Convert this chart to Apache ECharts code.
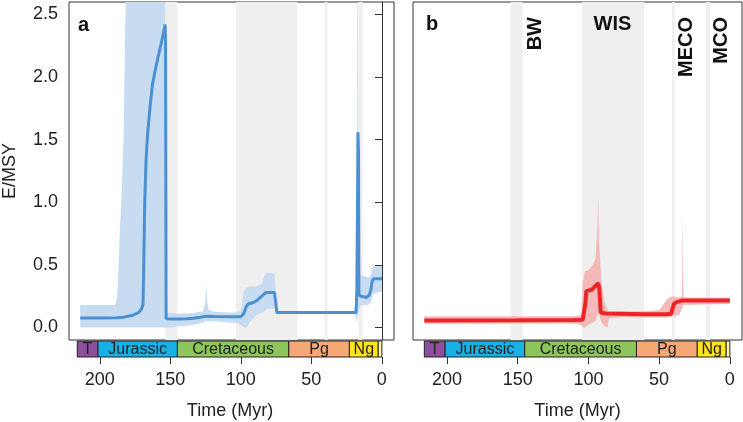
<!DOCTYPE html>
<html><head><meta charset="utf-8">
<script src="https://cdn.jsdelivr.net/npm/echarts@6/dist/echarts.min.js"></script>
<style>html,body{margin:0;padding:0;background:#fff}#c{width:743px;height:422px}</style>
</head><body><div id="c"></div>
<script>
// axis ranges and ticks
const X_MIN = -8.6, X_MAX = 224.0;
const Y_MIN = -0.1, Y_MAX = 2.6;
const yTicks = [0, 0.5, 1, 1.5, 2, 2.5];
const xTicks = [0, 50, 100, 150, 200];

// geological periods (Myr)
const periodNames = ['T', 'Jurassic', 'Cretaceous', 'Pg', 'Ng', ''];
const periodStart = [216, 201.3, 145, 66, 23.03, 2.58];
const periodEnd = [201.3, 145, 66, 23.03, 2.58, 0];
const periodColors = ['#8e4f9f', '#17b1e6', '#8dc65c', '#f6a874', '#ffe41c', '#fff6a8'];

// climatic events (Myr)
const eventNames = ['BW', 'WIS', 'MECO', 'MCO'];
const eventStart = [155, 104.5, 41, 16.8];
const eventEnd = [146.5, 60.5, 39, 13.8];

// panel a: mean E/MSY
const timeA = [216, 200, 190, 185, 179, 174, 172, 171.2, 171, 170.5,
  169.8, 168.8, 167.8, 166, 164.3, 162, 159.5, 157, 155.2, 154.9,
  154.5, 150, 145, 140, 135, 130, 126, 120, 110, 101,
  99, 97, 95.5, 92, 89, 86, 83, 77, 76, 75.3,
  18.5, 18, 17.5, 17.2, 16.8, 16.5, 15, 11, 10, 9,
  8, 7, 6, 0];
const rateA = [0.075, 0.075, 0.077, 0.082, 0.095, 0.12, 0.15, 0.18, 0.2, 0.5,
  1.0, 1.35, 1.54, 1.76, 1.94, 2.07, 2.2, 2.32, 2.42, 2.3,
  0.07, 0.068, 0.068, 0.07, 0.074, 0.082, 0.09, 0.088, 0.085, 0.085,
  0.11, 0.17, 0.19, 0.2, 0.22, 0.25, 0.28, 0.28, 0.2, 0.12,
  0.12, 0.3, 1.0, 1.56, 1.4, 0.26, 0.25, 0.24, 0.245, 0.26,
  0.3, 0.37, 0.39, 0.39];
// panel a: credible interval
const bandTimeA = [216, 191, 189.5, 188.5, 187.5, 186.5, 185, 183.5, 155.2, 154.6,
  150, 145, 135, 128, 126.5, 125.8, 125, 124, 120, 110,
  104, 101, 99, 97, 94, 90, 86, 84, 82, 77,
  75.5, 74, 20, 19, 18, 17.6, 17.2, 16.8, 16.4, 15,
  10, 8, 6.5, 3, 0];
const bandLowA = [0, 0, 0, 0, 0, 0, 0, 0, 0, 0,
  0, 0.01, 0.02, 0.04, 0.05, 0.05, 0.05, 0.05, 0.05, 0.04,
  0.035, 0.02, 0, 0, 0.05, 0.1, 0.12, 0.13, 0.15, 0.15,
  0.12, 0.11, 0.11, 0.1, 0.05, 0.05, 0.1, 0.12, 0.15, 0.18,
  0.18, 0.2, 0.27, 0.28, 0.29];
const bandHighA = [0.18, 0.18, 0.25, 0.5, 0.8, 1.0, 1.5, 2.6, 2.6, 0.12,
  0.115, 0.11, 0.115, 0.13, 0.2, 0.35, 0.2, 0.14, 0.125, 0.12,
  0.12, 0.14, 0.28, 0.32, 0.33, 0.33, 0.35, 0.42, 0.44, 0.43,
  0.2, 0.13, 0.13, 0.2, 0.4, 2.6, 2.6, 0.45, 0.42, 0.42,
  0.4, 0.42, 0.49, 0.49, 0.49];

// panel b: mean E/MSY
const timeB = [216, 150, 110, 104, 103, 102, 101.5, 98, 96, 93,
  92.2, 91.3, 88, 70, 60, 45, 41.5, 40.5, 39.5, 37,
  34, 0];
const rateB = [0.056, 0.058, 0.06, 0.062, 0.065, 0.2, 0.29, 0.3, 0.32, 0.355,
  0.3, 0.12, 0.112, 0.108, 0.105, 0.105, 0.11, 0.15, 0.19, 0.205,
  0.215, 0.215];
// panel b: credible interval
const bandTimeB = [216, 110, 105, 104, 102.5, 100, 97, 95, 93.6, 93.1,
  92.5, 91, 90, 88.5, 86.5, 85.5, 80, 60, 50, 46,
  43, 40, 36, 33.8, 33.3, 32.8, 32, 0];
const bandLowB = [0.03, 0.03, 0.02, 0, 0, 0.02, 0.04, 0.05, 0.1, 0.12,
  0.1, 0.05, 0.03, 0.01, 0, 0.07, 0.08, 0.08, 0.08, 0.08,
  0.08, 0.09, 0.1, 0.15, 0.18, 0.18, 0.18, 0.19];
const bandHighB = [0.09, 0.09, 0.1, 0.35, 0.45, 0.46, 0.5, 0.55, 0.8, 1.04,
  0.7, 0.4, 0.3, 0.2, 0.14, 0.13, 0.13, 0.13, 0.14, 0.2,
  0.24, 0.25, 0.24, 0.25, 0.88, 0.25, 0.24, 0.24];

const FONT = 'Liberation Sans, Arial, sans-serif';
const chart = echarts.init(document.getElementById('c'), null, {renderer: 'canvas'});

function pairs(t, v) { return t.map((x, i) => [x, v[i]]); }

function bandSeries(idx, t, lo, hi, color) {
  return {
    type: 'custom', xAxisIndex: idx, yAxisIndex: idx, z: 2, silent: true,
    data: [[t[0], lo[0]]],
    renderItem: function (params, api) {
      const pts = [];
      for (let i = 0; i < t.length; i++) pts.push(api.coord([t[i], hi[i]]));
      for (let i = t.length - 1; i >= 0; i--) pts.push(api.coord([t[i], lo[i]]));
      return {type: 'polygon', shape: {points: pts}, style: {fill: color}};
    }
  };
}

function eventSeries(idx) {
  return {
    type: 'custom', xAxisIndex: idx, yAxisIndex: idx, z: 1, silent: true,
    data: eventStart.map((s, i) => [s, eventEnd[i]]),
    renderItem: function (params, api) {
      const p1 = api.coord([api.value(0), Y_MAX]);
      const p2 = api.coord([api.value(1), Y_MIN]);
      return {type: 'rect', shape: {x: p1[0], y: p1[1], width: p2[0] - p1[0], height: p2[1] - p1[1]},
        style: {fill: '#efefef'}};
    }
  };
}

function periodSeries(idx) {
  return {
    type: 'custom', xAxisIndex: idx, yAxisIndex: idx, silent: true,
    data: periodStart.map((s, i) => [s, periodEnd[i], i]),
    renderItem: function (params, api) {
      const i = api.value(2);
      const p1 = api.coord([api.value(0), 1]);
      const p2 = api.coord([api.value(1), 0]);
      const w = p2[0] - p1[0], h = p2[1] - p1[1];
      return {type: 'group', children: [
        {type: 'rect', shape: {x: p1[0], y: p1[1], width: w, height: h},
          style: {fill: periodColors[i], stroke: '#222', lineWidth: 1}},
        {type: 'text', style: {text: periodNames[i], x: p1[0] + w / 2, y: p1[1] + h / 2 + 1,
          align: 'center', verticalAlign: 'middle', font: '16px ' + FONT, fill: '#222'}}
      ]};
    }
  };
}

const mainX = (gi) => ({gridIndex: gi, type: 'value', min: X_MIN, max: X_MAX, inverse: true, show: false});
const scaleX = (gi) => ({
  gridIndex: gi, type: 'value', min: X_MIN, max: X_MAX, inverse: true, position: 'bottom',
  axisLine: {show: false}, splitLine: {show: false},
  axisTick: {show: true, length: 7, customValues: xTicks, lineStyle: {color: '#333', width: 1}},
  axisLabel: {customValues: xTicks, margin: 14, fontSize: 18, fontFamily: FONT, color: '#222'},
  name: 'Time (Myr)', nameLocation: 'middle', nameGap: 45,
  nameTextStyle: {fontSize: 18, fontFamily: FONT, color: '#222'}
});

const labelFont = 'bold 20px ' + FONT;
const option = {
  animation: false,
  backgroundColor: '#fff',
  grid: [
    {left: 66, top: 2, width: 328, height: 338, show: true, borderColor: '#333', borderWidth: 1, backgroundColor: 'transparent'},
    {left: 413, top: 2, width: 329, height: 338, show: true, borderColor: '#333', borderWidth: 1, backgroundColor: 'transparent'},
    {left: 66, top: 341, width: 328, height: 16},
    {left: 413, top: 341, width: 329, height: 16}
  ],
  xAxis: [mainX(0), mainX(1), scaleX(2), scaleX(3)],
  yAxis: [
    {gridIndex: 0, type: 'value', min: Y_MIN, max: Y_MAX, splitLine: {show: false},
      axisLine: {show: true, lineStyle: {color: '#333'}},
      axisTick: {show: true, length: 7, customValues: yTicks, lineStyle: {color: '#333'}},
      axisLabel: {customValues: yTicks, margin: 11, fontSize: 18, fontFamily: FONT, color: '#222',
        formatter: v => v.toFixed(1)},
      name: 'E/MSY', nameLocation: 'middle', nameGap: 50, nameRotate: 90,
      nameTextStyle: {fontSize: 18, fontFamily: FONT, color: '#222'}},
    {gridIndex: 1, type: 'value', min: Y_MIN, max: Y_MAX, show: false},
    {gridIndex: 2, type: 'value', min: 0, max: 1, show: false},
    {gridIndex: 3, type: 'value', min: 0, max: 1, show: false}
  ],
  series: [
    eventSeries(0), eventSeries(1),
    bandSeries(0, bandTimeA, bandLowA, bandHighA, '#c7dcf0'),
    bandSeries(1, bandTimeB, bandLowB, bandHighB, '#f6b9b9'),
    {type: 'line', xAxisIndex: 0, yAxisIndex: 0, z: 3, data: pairs(timeA, rateA), showSymbol: false,
      lineStyle: {color: '#4a90d2', width: 3}, silent: true},
    {type: 'line', xAxisIndex: 1, yAxisIndex: 1, z: 3, data: pairs(timeB, rateB), showSymbol: false,
      lineStyle: {color: '#ec2428', width: 4}, silent: true},
    periodSeries(2), periodSeries(3)
  ],
  graphic: [
    {type: 'text', id: 'la', z: 100, left: 78, top: 15, style: {text: 'a', font: labelFont, fill: '#111'}},
    {type: 'text', id: 'lb', z: 100, left: 426, top: 14, style: {text: 'b', font: labelFont, fill: '#111'}},
    {type: 'text', id: 'e0', z: 100, x: 535, y: 17, rotation: Math.PI / 2,
      style: {text: eventNames[0], font: labelFont, fill: '#111', align: 'right', verticalAlign: 'middle'}},
    {type: 'text', id: 'e1', z: 100, x: 612.5, y: 24,
      style: {text: eventNames[1], font: labelFont, fill: '#111', align: 'center', verticalAlign: 'middle'}},
    {type: 'text', id: 'e2', z: 100, x: 686, y: 17, rotation: Math.PI / 2,
      style: {text: eventNames[2], font: labelFont, fill: '#111', align: 'right', verticalAlign: 'middle'}},
    {type: 'text', id: 'e3', z: 100, x: 721.5, y: 17, rotation: Math.PI / 2,
      style: {text: eventNames[3], font: labelFont, fill: '#111', align: 'right', verticalAlign: 'middle'}}
  ]
};
chart.setOption(option);
</script></body></html>
